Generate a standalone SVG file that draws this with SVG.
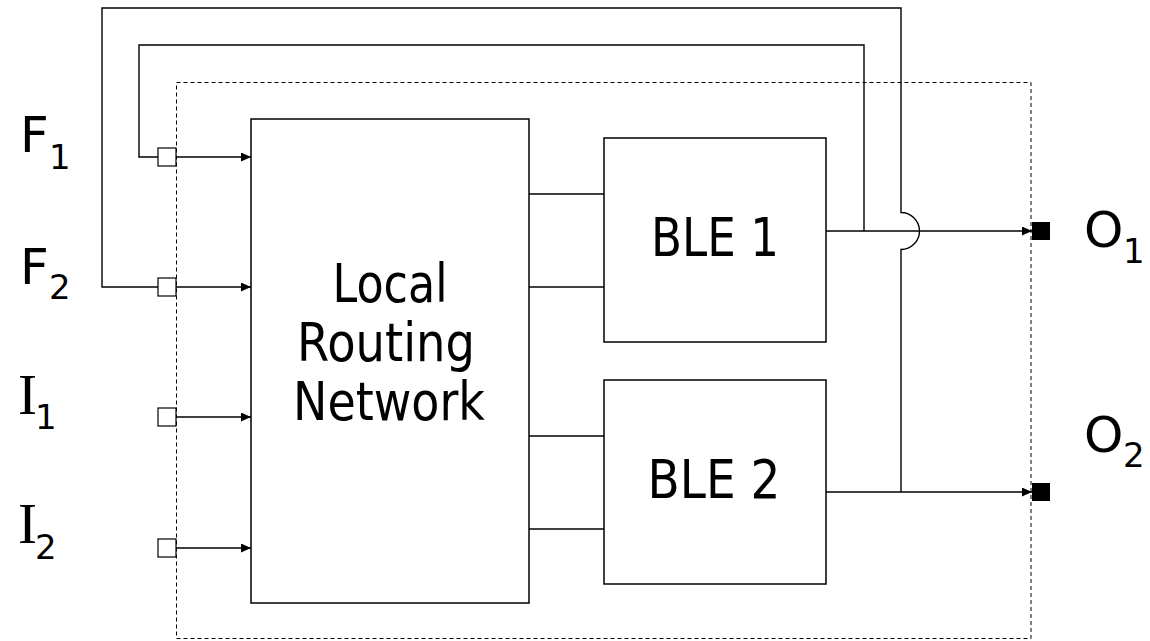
<svg xmlns="http://www.w3.org/2000/svg" width="1150" height="641" viewBox="0 0 1150 641">
  <defs>
    <marker id="arrow" markerUnits="userSpaceOnUse" markerWidth="11" markerHeight="10" refX="10" refY="4.5" orient="auto">
      <path d="M0,0 L10,4.5 L0,9 z" fill="#000"/>
    </marker>
    <style>
      .box { fill: #fff; stroke: #000; stroke-width: 1.5; }
      .cluster { fill: none; stroke: #000; stroke-width: 1; stroke-dasharray: 4 3; }
      .port { fill: #fff; stroke: #000; stroke-width: 1.2; }
      .oport { fill: #000; stroke: none; }
      .wire { fill: none; stroke: #000; stroke-width: 1.4; }
      .big { font-family: "DejaVu Sans", Verdana, sans-serif; font-size: 53px; fill: #000; }
      .lbl { font-family: "DejaVu Sans", Verdana, sans-serif; font-size: 50px; fill: #000; }
      .lblI { font-family: "Liberation Serif", "Times New Roman", serif; font-size: 57px; fill: #000; }
      .sub { font-family: "DejaVu Sans", Verdana, sans-serif; font-size: 34px; fill: #000; }
    </style>
  </defs>
  <rect width="1150" height="641" fill="#fff"/>

  <g id="cluster">
    <rect class="cluster" x="176.5" y="82.5" width="854.5" height="556"/>
  </g>

  <g id="connectors">
    <!-- inputs to LRN -->
    <line class="wire" x1="176" y1="157" x2="251" y2="157" marker-end="url(#arrow)"/>
    <line class="wire" x1="176" y1="287" x2="251" y2="287" marker-end="url(#arrow)"/>
    <line class="wire" x1="176" y1="417" x2="251" y2="417" marker-end="url(#arrow)"/>
    <line class="wire" x1="176" y1="548" x2="251" y2="548" marker-end="url(#arrow)"/>
    <!-- LRN to BLEs -->
    <line class="wire" x1="529" y1="194" x2="604" y2="194"/>
    <line class="wire" x1="529" y1="287" x2="604" y2="287"/>
    <line class="wire" x1="529" y1="436" x2="604" y2="436"/>
    <line class="wire" x1="529" y1="529" x2="604" y2="529"/>
    <!-- outputs -->
    <line class="wire" x1="826" y1="231" x2="1032" y2="231" marker-end="url(#arrow)"/>
    <line class="wire" x1="826" y1="492" x2="1032" y2="492" marker-end="url(#arrow)"/>
    <!-- feedback F1 -->
    <path class="wire" d="M864,231 V45 H139 V157 H158"/>
    <!-- feedback F2 with jump -->
    <path class="wire" d="M901,492 V249.5 A18.5,18.5 0 0 0 901,212.5 V8 H102 V287 H158"/>
  </g>

  <g id="node-lrn">
    <rect class="box" x="251" y="119" width="278" height="484"/>
    <text class="big" x="390" y="302" text-anchor="middle" textLength="115" lengthAdjust="spacingAndGlyphs">Local</text>
    <text class="big" x="386" y="361" text-anchor="middle" textLength="178" lengthAdjust="spacingAndGlyphs">Routing</text>
    <text class="big" x="389" y="420" text-anchor="middle" textLength="192" lengthAdjust="spacingAndGlyphs">Network</text>
  </g>

  <g id="node-ble1">
    <rect class="box" x="604" y="138" width="222" height="204"/>
    <text class="big" x="715" y="256" text-anchor="middle" textLength="128" lengthAdjust="spacingAndGlyphs">BLE 1</text>
  </g>

  <g id="node-ble2">
    <rect class="box" x="604" y="380" width="222" height="204"/>
    <text class="big" x="714" y="498" text-anchor="middle" textLength="133" lengthAdjust="spacingAndGlyphs">BLE 2</text>
  </g>

  <g id="port-f1">
    <rect class="port" x="158" y="148" width="18" height="18"/>
    <text class="lbl" x="20" y="152">F</text>
    <text class="sub" x="49" y="169">1</text>
  </g>
  <g id="port-f2">
    <rect class="port" x="158" y="278" width="18" height="18"/>
    <text class="lbl" x="20" y="284">F</text>
    <text class="sub" x="49" y="299">2</text>
  </g>
  <g id="port-i1">
    <rect class="port" x="158" y="408" width="18" height="18"/>
    <text class="lblI" x="18" y="414">I</text>
    <text class="sub" x="35" y="429">1</text>
  </g>
  <g id="port-i2">
    <rect class="port" x="158" y="539" width="18" height="18"/>
    <text class="lblI" x="18" y="543">I</text>
    <text class="sub" x="35" y="559">2</text>
  </g>
  <g id="port-o1">
    <rect class="oport" x="1032" y="222" width="18" height="18"/>
    <text class="lbl" x="1084" y="247">O</text>
    <text class="sub" x="1123" y="263">1</text>
  </g>
  <g id="port-o2">
    <rect class="oport" x="1032" y="483" width="18" height="18"/>
    <text class="lbl" x="1084" y="452">O</text>
    <text class="sub" x="1123" y="467">2</text>
  </g>
</svg>
